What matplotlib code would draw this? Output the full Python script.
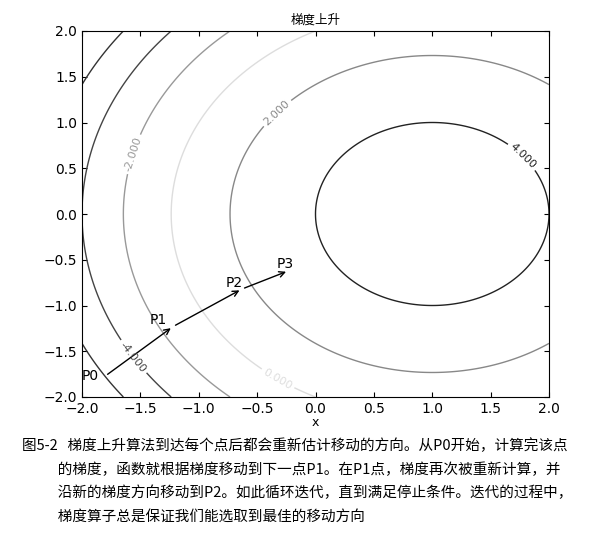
import numpy as np
import matplotlib
matplotlib.use('Agg')
import matplotlib.pyplot as plt

plt.rcParams['font.family'] = ['Noto Sans CJK SC', 'DejaVu Sans']
plt.rcParams['axes.unicode_minus'] = True

# surface: f(x, y) = 5 - ((x - 1)^2 + y^2)
CENTER = (1.0, 0.0)
PEAK = 5.0
levels = [-6, -4, -2, 0, 2, 4]
level_colors = ['#333333', '#444444', '#999999', '#dddddd', '#888888', '#222222']

# gradient ascent path
point_names = ['P0', 'P1', 'P2', 'P3']
point_x = [-1.8, -1.22, -0.63, -0.23]
point_y = [-1.77, -1.23, -0.82, -0.62]

caption_lines = [
    '图5-2   梯度上升算法到达每个点后都会重新估计移动的方向。从P0开始，计算完该点',
    '           的梯度，函数就根据梯度移动到下一点P1。在P1点，梯度再次被重新计算，并',
    '           沿新的梯度方向移动到P2。如此循环迭代，直到满足停止条件。迭代的过程中，',
    '           梯度算子总是保证我们能选取到最佳的移动方向',
]

fig = plt.figure(figsize=(6.15, 5.35), dpi=100)
ax = fig.add_axes([82 / 615, 1 - 397 / 535, 467 / 615, 366 / 535])

xs = np.linspace(-2, 2, 400)
ys = np.linspace(-2, 2, 400)
X, Y = np.meshgrid(xs, ys)
Z = PEAK - ((X - CENTER[0]) ** 2 + (Y - CENTER[1]) ** 2)

cs = ax.contour(X, Y, Z, levels=levels, colors=level_colors, linewidths=1)
labels = ax.clabel(cs, fmt='%1.3f', fontsize=8, inline=True,
                   manual=[(-1.6, -1.6), (-1.55, 0.65), (-0.3, -1.75), (-0.4, 1.2), (1.75, 0.6)])
for t in labels:
    t.set_family('DejaVu Sans')

for i in range(len(point_x) - 1):
    ax.annotate('', xy=(point_x[i + 1], point_y[i + 1]), xytext=(point_x[i], point_y[i]),
                arrowprops=dict(arrowstyle='->', color='black', lw=1))
offsets = [(-0.13, 0.0), (-0.13, 0.07), (-0.07, 0.07), (-0.03, 0.07)]
for name, x, y, (dx, dy) in zip(point_names, point_x, point_y, offsets):
    ax.text(x + dx, y + dy, name, fontsize=10, ha='center', va='center', family='DejaVu Sans')

ax.set_xlim(-2, 2)
ax.set_ylim(-2, 2)
ax.set_xticks(np.arange(-2, 2.01, 0.5))
ax.set_yticks(np.arange(-2, 2.01, 0.5))
ax.tick_params(direction='in', top=True, right=True, labelsize=10)
for t in ax.get_xticklabels() + ax.get_yticklabels():
    t.set_family('DejaVu Sans')
ax.set_title('梯度上升', fontsize=9, pad=5)
ax.set_xlabel('x', fontsize=9, labelpad=0, family='DejaVu Sans')

for i, line in enumerate(caption_lines):
    fig.text(22 / 615, 1 - (446 + i * 23.5) / 535, line, fontsize=10.5, va='center',
             family=['Noto Sans CJK SC', 'DejaVu Sans'])

fig.savefig('out.png', dpi=100)
